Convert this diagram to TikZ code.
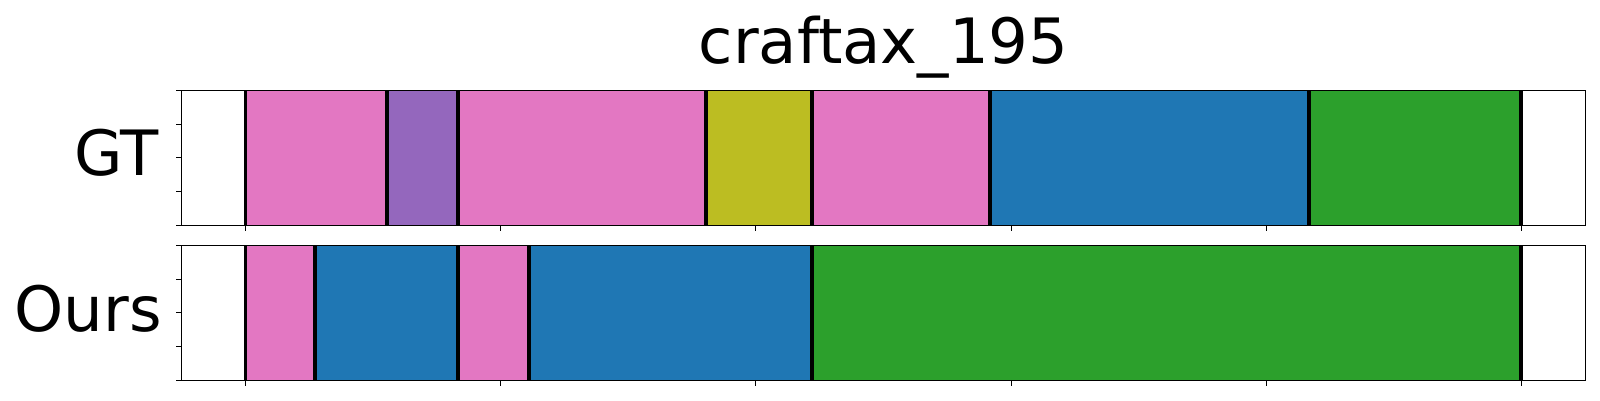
\documentclass[tikz,border=0pt]{standalone}
\usepackage{fontspec}
\setmainfont{DejaVu Sans}
\definecolor{tpink}{HTML}{E377C2}
\definecolor{tpurple}{HTML}{9467BD}
\definecolor{tolive}{HTML}{BCBD22}
\definecolor{tblue}{HTML}{1F77B4}
\definecolor{tgreen}{HTML}{2CA02C}
\begin{document}
\begin{tikzpicture}[x=1pt,y=-1pt,
  seg/.style={fill=#1, draw=#1!88!black, line width=0.6pt},
  sepline/.style={line width=3.8pt, black},
  frame/.style={line width=1.2pt, black},
  tickmark/.style={line width=0.9pt, black},
  lbl/.style={font=\fontsize{62.5}{70}\selectfont, inner sep=0pt}]
\useasboundingbox (0,0) rectangle (1600,400);
% ---------- GT panel ----------
\def\ta{90.3}\def\tb{225.3}
\foreach \xa/\xb/\c in {245.5/387.2/tpink, 387.2/458.2/tpurple, 458.2/706/tpink, 706/812/tolive, 812/990/tpink, 990/1308.7/tblue, 1308.7/1520.8/tgreen}
  \path[seg=\c] (\xa,\ta) rectangle (\xb,\tb);
\foreach \x in {245.5,387.2,458.2,706,812,990,1308.7,1520.8}
  \draw[sepline] (\x,\ta) -- (\x,\tb);
\draw[frame] (181.3,\ta) rectangle (1585.7,\tb);
\foreach \k in {0,...,4} \draw[tickmark] (181.3,{\ta+\k*33.75}) -- ++(-5.5,0);
\foreach \k in {0,...,5} \draw[tickmark] ({245.7+\k*255.1},\tb) -- ++(0,5.5);
\node[lbl, anchor=base east] (gt) at (158.8,175.7) {GT};
% ---------- Ours panel ----------
\def\ba{245.3}\def\bb{380.3}
\foreach \xa/\xb/\c in {245.5/315.3/tpink, 315.3/458.2/tblue, 458.2/528.8/tpink, 528.8/812/tblue, 812/1520.8/tgreen}
  \path[seg=\c] (\xa,\ba) rectangle (\xb,\bb);
\foreach \x in {245.5,315.3,458.2,528.8,812,1520.8}
  \draw[sepline] (\x,\ba) -- (\x,\bb);
\draw[frame] (181.3,\ba) rectangle (1585.7,\bb);
\foreach \k in {0,...,4} \draw[tickmark] (181.3,{\ba+\k*33.75}) -- ++(-5.5,0);
\foreach \k in {0,...,5} \draw[tickmark] ({245.7+\k*255.1},\bb) -- ++(0,5.5);
\node[lbl, anchor=base east] (ours) at (162,331.7) {Ours};
% ---------- title ----------
\node[lbl, anchor=base] (title) at (883.5,63.3) {craftax\_195};
\end{tikzpicture}
\end{document}
